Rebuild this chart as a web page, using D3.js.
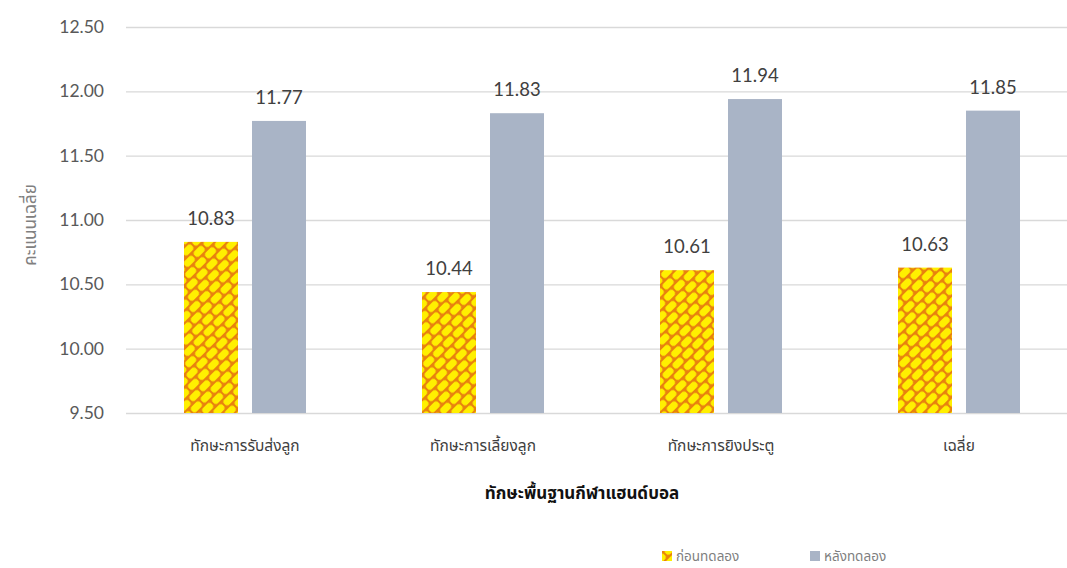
<!DOCTYPE html>
<html>
<head>
<meta charset="utf-8">
<script src="https://cdn.jsdelivr.net/npm/d3@7"></script>
<style>
  html, body { margin: 0; padding: 0; background: #ffffff; }
  svg { display: block; }
  .num { font-family: Lato, "Open Sans", "Noto Sans", sans-serif; }
  .thai { font-family: "Noto Sans Thai", "Noto Sans", "DejaVu Sans", sans-serif; }
</style>
</head>
<body>
<svg id="chart" width="1067" height="568"></svg>
<script>
// Handball basic skill scores, before and after training
const categories = ["ทักษะการรับส่งลูก", "ทักษะการเลี้ยงลูก", "ทักษะการยิงประตู", "เฉลี่ย"];
const seriesNames = ["ก่อนทดลอง", "หลังทดลอง"];
const beforeValues = [10.83, 10.44, 10.61, 10.63];
const afterValues = [11.77, 11.83, 11.94, 11.85];
const yTicks = [9.5, 10.0, 10.5, 11.0, 11.5, 12.0, 12.5];
const xTitle = "ทักษะพื้นฐานกีฬาแฮนด์บอล";
const yTitle = "คะแนนเฉลี่ย";

const svg = d3.select("#chart");
const W = 1067, H = 568;
const margin = { left: 126, right: -11, top: 27, bottom: 155 };

// Woven yellow/orange fill for the "before" series
const defs = svg.append("defs");
const pat = defs.append("pattern")
  .attr("id", "weave")
  .attr("patternUnits", "userSpaceOnUse")
  .attr("width", 14).attr("height", 18)
  .attr("patternTransform", "rotate(-45)");
pat.append("rect").attr("width", 14).attr("height", 18).attr("fill", "#e8820e");
const tiles = [[1, 1], [-6, 10], [8, 10]];
pat.selectAll("rect.tile")
  .data(tiles)
  .join("rect")
  .attr("class", "tile")
  .attr("x", d => d[0]).attr("y", d => d[1])
  .attr("width", 12).attr("height", 7)
  .attr("rx", 3).attr("fill", "#fff000");

const seriesFill = ["url(#weave)", "#a9b4c6"];

const x0 = d3.scaleBand()
  .domain(categories)
  .range([margin.left, W - margin.right])
  .padding(0);

const x1 = d3.scaleBand()
  .domain(seriesNames)
  .range([0, x0.bandwidth()])
  .paddingInner(0.206)
  .paddingOuter(0.853);

const y = d3.scaleLinear()
  .domain([9.5, 12.5])
  .range([H - margin.bottom, margin.top]);

// Gridlines and value ticks
const yAxis = d3.axisLeft(y)
  .tickValues(yTicks)
  .tickFormat(d3.format(".2f"))
  .tickSize(-(W - margin.left))
  .tickPadding(22);

const gy = svg.append("g")
  .attr("transform", `translate(${margin.left},0)`)
  .call(yAxis);
gy.select(".domain").remove();
gy.selectAll(".tick line").attr("stroke", "#d9d9d9").attr("stroke-width", 1.3);
gy.selectAll(".tick text")
  .attr("class", "num")
  .attr("fill", "#595959")
  .attr("font-size", 17.5);

// Bars
const data = categories.map((c, i) => ({ cat: c, vals: [beforeValues[i], afterValues[i]] }));

const groups = svg.append("g").selectAll("g")
  .data(data)
  .join("g")
  .attr("transform", d => `translate(${x0(d.cat)},0)`);

groups.selectAll("rect")
  .data(d => d.vals.map((v, j) => ({ name: seriesNames[j], v, j })))
  .join("rect")
  .attr("x", d => x1(d.name))
  .attr("width", x1.bandwidth())
  .attr("y", d => y(d.v))
  .attr("height", d => y(9.5) - y(d.v))
  .attr("fill", d => seriesFill[d.j]);

// Value labels
groups.selectAll("text.val")
  .data(d => d.vals.map((v, j) => ({ name: seriesNames[j], v, j })))
  .join("text")
  .attr("class", "val num")
  .attr("x", d => x1(d.name) + x1.bandwidth() / 2)
  .attr("y", d => y(d.v) - 17)
  .attr("text-anchor", "middle")
  .attr("font-size", 18.5)
  .attr("fill", "#404040")
  .text(d => d.v.toFixed(2));

// Category labels
svg.append("g").selectAll("text")
  .data(categories)
  .join("text")
  .attr("class", "thai")
  .attr("x", d => x0(d) + x0.bandwidth() / 2)
  .attr("y", 451)
  .attr("text-anchor", "middle")
  .attr("font-size", 15.5)
  .attr("fill", "#404040")
  .text(d => d);

// Axis titles
svg.append("text")
  .attr("class", "thai")
  .attr("x", 582).attr("y", 499)
  .attr("text-anchor", "middle")
  .attr("font-size", 17)
  .attr("font-weight", "bold")
  .attr("fill", "#111111")
  .text(xTitle);

svg.append("text")
  .attr("class", "thai")
  .attr("transform", "translate(36,225) rotate(-90)")
  .attr("text-anchor", "middle")
  .attr("font-size", 17)
  .attr("fill", "#808080")
  .text(yTitle);

// Legend
const legendX = [662, 810];
const legend = svg.append("g").selectAll("g")
  .data(seriesNames)
  .join("g")
  .attr("transform", (d, i) => `translate(${legendX[i]},551)`);
legend.append("rect")
  .attr("width", 10).attr("height", 10)
  .attr("fill", (d, i) => seriesFill[i]);
legend.append("text")
  .attr("class", "thai")
  .attr("x", 14).attr("y", 10)
  .attr("font-size", 13.5)
  .attr("fill", "#7f7f7f")
  .text(d => d);
</script>
</body>
</html>
